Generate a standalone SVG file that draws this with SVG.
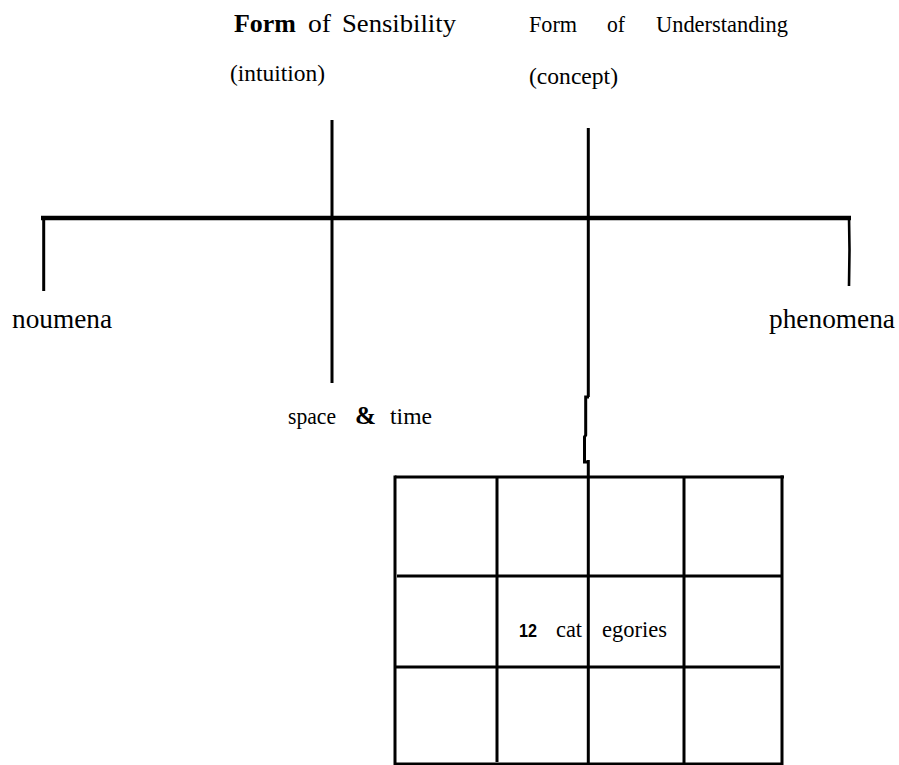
<svg xmlns="http://www.w3.org/2000/svg" width="899" height="765" viewBox="0 0 899 765">
<style>
text{fill:#000}
.ln{stroke:#000;fill:none;stroke-linecap:butt}
</style>
<rect width="899" height="765" fill="#fff"/>
<g id="connectors">
<line class="ln" x1="41" y1="218" x2="851" y2="218" stroke-width="4.5"/>
<line class="ln" x1="43.7" y1="216" x2="43.7" y2="291" stroke-width="3"/>
<polyline class="ln" points="849,216 849.5,250 849,286" stroke-width="2.6"/>
<line class="ln" x1="332" y1="120" x2="332" y2="383" stroke-width="3"/>
<line class="ln" x1="588.3" y1="128" x2="588.3" y2="397" stroke-width="3"/>
<polyline class="ln" points="589,397 585.7,397 585.7,435 584.5,437 584.5,462 588.3,462" stroke-width="3"/>
<line class="ln" x1="588.3" y1="460" x2="588.3" y2="477" stroke-width="3"/>
</g>
<g id="sensibility" font-family="'Liberation Serif','Times New Roman','DejaVu Serif',serif">
<text x="234" y="32" font-size="25" font-weight="bold" textLength="62" lengthAdjust="spacingAndGlyphs">Form</text>
<text x="308" y="32" font-size="25" textLength="23" lengthAdjust="spacingAndGlyphs">of</text>
<text x="342" y="32" font-size="25" textLength="114" lengthAdjust="spacingAndGlyphs">Sensibility</text>
<text x="230" y="81" font-size="24" textLength="95" lengthAdjust="spacingAndGlyphs">(intuition)</text>
</g>
<g id="understanding" font-family="'Liberation Serif','Times New Roman','DejaVu Serif',serif">
<text x="529" y="32" font-size="24" textLength="48" lengthAdjust="spacingAndGlyphs">Form</text>
<text x="607" y="32" font-size="24" textLength="18" lengthAdjust="spacingAndGlyphs">of</text>
<text x="656" y="32" font-size="24" textLength="132" lengthAdjust="spacingAndGlyphs">Understanding</text>
<text x="529" y="84" font-size="24" textLength="89" lengthAdjust="spacingAndGlyphs">(concept)</text>
</g>
<g id="noumena" font-family="'Liberation Serif','Times New Roman','DejaVu Serif',serif">
<text x="12" y="328" font-size="28" textLength="100" lengthAdjust="spacingAndGlyphs">noumena</text>
</g>
<g id="phenomena" font-family="'Liberation Serif','Times New Roman','DejaVu Serif',serif">
<text x="769" y="328" font-size="28" textLength="126" lengthAdjust="spacingAndGlyphs">phenomena</text>
</g>
<g id="space-time" font-family="'Liberation Serif','Times New Roman','DejaVu Serif',serif">
<text x="288" y="424" font-size="23" textLength="48" lengthAdjust="spacingAndGlyphs">space</text>
<text x="355" y="424" font-size="25" font-weight="bold" textLength="21" lengthAdjust="spacingAndGlyphs">&amp;</text>
<text x="390" y="424" font-size="23" textLength="42" lengthAdjust="spacingAndGlyphs">time</text>
</g>
<g id="categories">
<g class="ln" stroke-width="3">
<line x1="395" y1="477" x2="784" y2="477"/>
<line x1="397" y1="576" x2="782" y2="576"/>
<line x1="395" y1="667" x2="780" y2="667"/>
<line x1="395" y1="764" x2="782" y2="764"/>
<line x1="395" y1="475.5" x2="395" y2="765"/>
<line x1="497" y1="477" x2="497" y2="762"/>
<line x1="588.3" y1="477" x2="588.3" y2="765"/>
<line x1="684" y1="477" x2="684" y2="764"/>
<line x1="782" y1="475.5" x2="782" y2="765"/>
</g>
<text x="519" y="637" font-family="'Liberation Sans',Arial,sans-serif" font-weight="bold" font-size="19" textLength="18" lengthAdjust="spacingAndGlyphs">12</text>
<text x="556" y="637" font-family="'Liberation Serif','Times New Roman','DejaVu Serif',serif" font-size="23" textLength="26" lengthAdjust="spacingAndGlyphs">cat</text>
<text x="602" y="637" font-family="'Liberation Serif','Times New Roman','DejaVu Serif',serif" font-size="23" textLength="65" lengthAdjust="spacingAndGlyphs">egories</text>
</g>
</svg>
